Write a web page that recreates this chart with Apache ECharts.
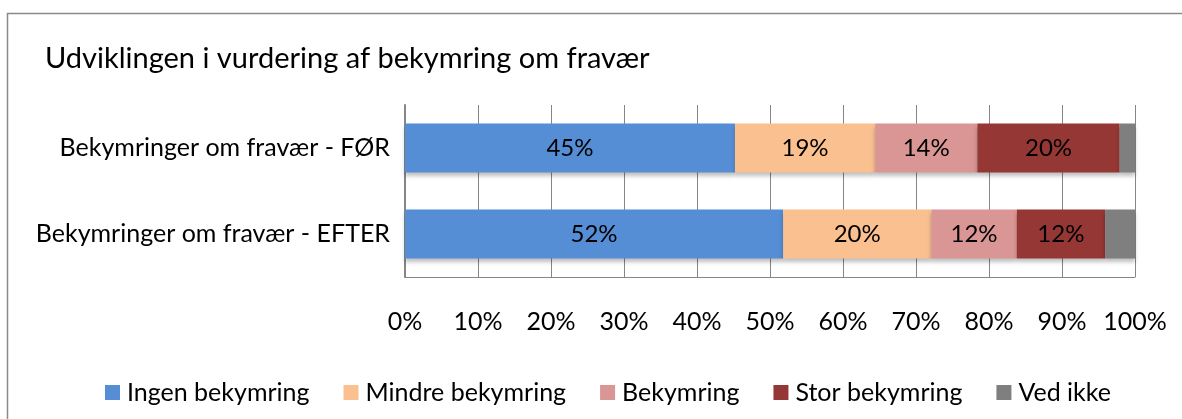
<!DOCTYPE html>
<html><head><meta charset="utf-8">
<script src="https://cdn.jsdelivr.net/npm/echarts@6/dist/echarts.min.js"></script>
<style>html,body{margin:0;padding:0;background:#fff}#c{width:1182px;height:419px}</style>
</head><body><div id="c"></div>
<script>
const categories = ['Bekymringer om fravær - FØR', 'Bekymringer om fravær - EFTER'];
const seriesNames = ['Ingen bekymring', 'Mindre bekymring', 'Bekymring', 'Stor bekymring', 'Ved ikke'];
const ingen = [45.2, 51.8];
const mindre = [19.2, 20.3];
const bekymring = [14.0, 11.7];
const stor = [19.5, 12.1];
const vedIkke = [2.1, 4.1];
const xTicks = [0, 10, 20, 30, 40, 50, 60, 70, 80, 90, 100];
const colors = ['#558ED5', '#FAC090', '#D99694', '#953735', '#7F7F7F'];
const font = 'Lato, "Open Sans", sans-serif';

const values = [ingen, mindre, bekymring, stor, vedIkke];
const chart = echarts.init(document.getElementById('c'));
chart.setOption({
  animation: false,
  textStyle: { fontFamily: font },
  title: { text: 'Udviklingen i vurdering af bekymring om fravær', left: 40, top: 39,
    textStyle: { fontFamily: font, fontSize: 29, fontWeight: 'normal', color: '#000' } },
  legend: { left: 100, top: 375, itemWidth: 15, itemHeight: 15, itemGap: 34, icon: 'rect',
    textStyle: { fontFamily: font, fontSize: 25, color: '#000', padding: [0, 0, 0, 2] }, data: seriesNames },
  grid: { left: 405, right: 47, top: 105, bottom: 142, containLabel: false },
  xAxis: { type: 'value', min: 0, max: 100, interval: 10,
    axisLabel: { formatter: v => xTicks.includes(v) ? v + '%' : '', fontSize: 25, color: '#000', margin: 32, fontFamily: font },
    splitLine: { show: true, lineStyle: { color: '#868686', width: 1 } },
    axisLine: { show: true, lineStyle: { color: '#868686', width: 1 } },
    axisTick: { show: false } },
  yAxis: { type: 'category', data: categories, inverse: true,
    axisLabel: { fontSize: 25, color: '#000', margin: 15, fontFamily: font },
    axisLine: { show: true, lineStyle: { color: '#868686', width: 2 } },
    axisTick: { show: false } },
  graphic: [{ type: 'rect', shape: { x: 7.5, y: 13.5, width: 1300, height: 600 },
    style: { fill: 'none', stroke: '#8a8a8a', lineWidth: 1.5 }, silent: true }],
  series: seriesNames.map((n, i) => ({
    name: n, type: 'bar', stack: 'total', data: values[i], barWidth: 49,
    itemStyle: { color: colors[i], shadowColor: 'rgba(0,0,0,0.25)', shadowBlur: 4, shadowOffsetY: 3 },
    label: { show: i < 4, position: 'inside', color: '#000', fontSize: 24, fontFamily: font,
      formatter: p => Math.round(p.value) + '%' }
  }))
});
</script></body></html>
